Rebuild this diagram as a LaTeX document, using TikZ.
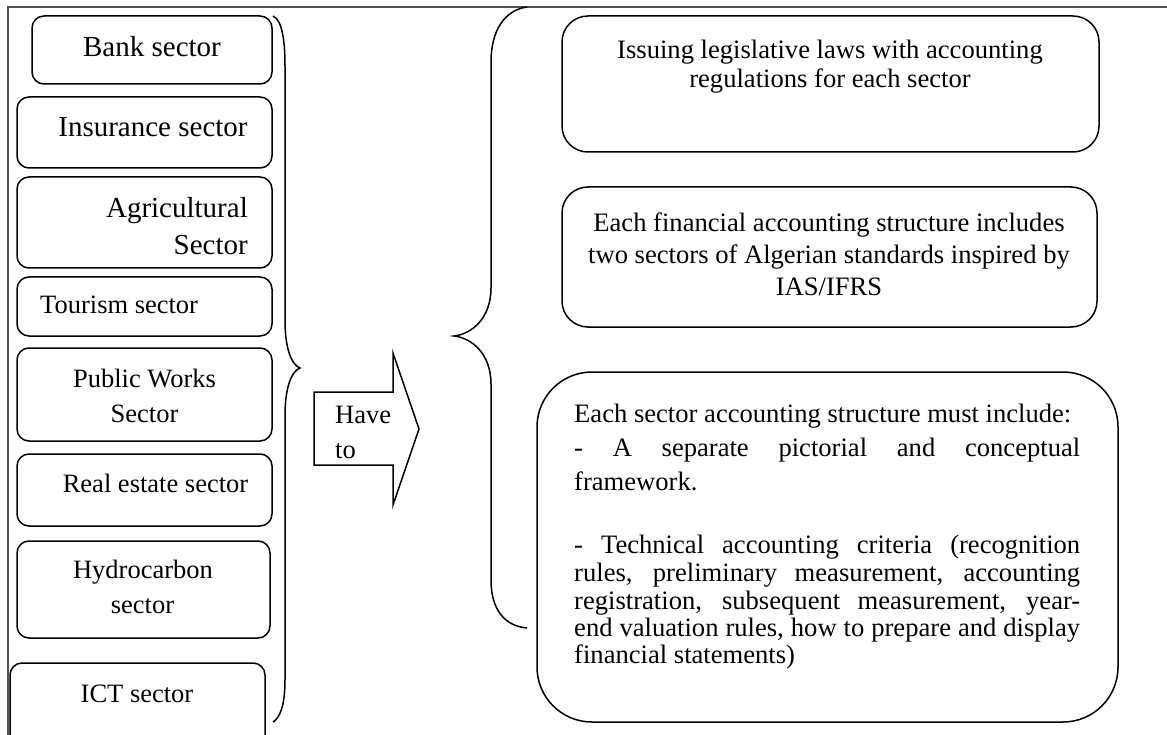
\documentclass[tikz,border=0pt]{standalone}
\usepackage{fontspec}
\setmainfont{Liberation Serif}
\definecolor{framegray}{HTML}{505050}
\tikzset{
  frameline/.style={draw=framegray, line width=2pt},
  sbox/.style={draw, line width=1.5pt, rounded corners=12pt, inner sep=0pt, outer sep=0pt},
  rbox/.style={draw, line width=1.5pt, rounded corners=26pt, inner sep=0pt, outer sep=0pt},
  bbox/.style={draw, line width=1.5pt, rounded corners=55pt, inner sep=0pt, outer sep=0pt},
  brace/.style={draw, line width=1.5pt},
  bigt/.style={inner sep=0pt, font=\fontsize{29}{34}\selectfont},
  midt/.style={inner sep=0pt, font=\fontsize{26.5}{31}\selectfont},
  rtxt/.style={inner sep=0pt, anchor=base, font=\fontsize{26.6}{31}\selectfont},
  jline/.style={inner sep=0pt, anchor=base west, font=\fontsize{26.6}{31}\selectfont},
}
\newcommand{\jst}[1]{\makebox[506pt][s]{#1}}
\begin{document}
\begin{tikzpicture}[x=1pt,y=-1pt]
\clip (0,0) rectangle (1167,735);
\fill[white] (0,0) rectangle (1167,735);
% frame
\draw[frameline] (8,740) -- (8,7) -- (1170,7);
% left boxes
\node[sbox, minimum width=240pt, minimum height=68pt] (bank) at (152,50) {};
\node[sbox, minimum width=255pt, minimum height=71pt] (ins) at (144.5,132.5) {};
\node[sbox, minimum width=255pt, minimum height=91pt] (agri) at (144.5,222.5) {};
\node[sbox, minimum width=255pt, minimum height=59pt] (tour) at (144.5,306.5) {};
\node[sbox, minimum width=255pt, minimum height=93pt] (pub) at (144.5,394.5) {};
\node[sbox, minimum width=255pt, minimum height=72pt] (real) at (144.5,490) {};
\node[sbox, minimum width=253pt, minimum height=97pt] (hydro) at (143.5,589.5) {};
\node[sbox, minimum width=255pt, minimum height=97pt] (ict) at (137.5,711.5) {};
% left texts
\node[bigt, anchor=base] (tbank) at (152,57) {Bank sector};
\node[bigt, anchor=base] (tins) at (153,137) {Insurance sector};
\node[bigt, anchor=base east] (tagri1) at (248,218) {Agricultural};
\node[bigt, anchor=base east] (tagri2) at (248,255) {Sector};
\node[midt, anchor=base west] (ttour) at (40,313) {Tourism sector};
\node[midt, anchor=base] (tpub1) at (144.5,387) {Public Works};
\node[midt, anchor=base] (tpub2) at (144.5,422) {Sector};
\node[midt, anchor=base] (treal) at (155.5,492) {Real estate sector};
\node[midt, anchor=base] (thyd1) at (143,578) {Hydrocarbon};
\node[midt, anchor=base] (thyd2) at (142.5,613) {sector};
\node[midt, anchor=base] (tict) at (137,702) {ICT sector};
% left brace
\draw[brace] (273,16) .. controls (282,20) and (285,40) .. (285,66) -- (285,320)
  .. controls (285,350) and (292,365) .. (300,368)
  .. controls (292,371) and (285,386) .. (285,416) -- (285,680)
  .. controls (285,705) and (280,718) .. (273,722);
% arrow
\draw[line width=1.5pt, line join=miter] (314,392) -- (393,392) -- (393,353) -- (419,429) -- (393,505) -- (393,465) -- (314,465) -- cycle;
\node[midt, anchor=base west] (have) at (335,423) {Have};
\node[midt, anchor=base west] (to) at (335,458) {to};
% right brace
\draw[brace] (527,7) .. controls (505,10) and (491,30) .. (491,62) -- (491,288)
  .. controls (491,318) and (472,334) .. (454,336)
  .. controls (472,338) and (491,354) .. (491,384) -- (491,580)
  .. controls (491,610) and (505,626) .. (527,628);
% right boxes
\node[rbox, minimum width=537pt, minimum height=136pt] (b1) at (830.5,84) {};
\node[rbox, minimum width=535pt, minimum height=140pt] (b2) at (829.5,257) {};
\node[bbox, minimum width=581pt, minimum height=350pt] (b3) at (827.5,547) {};
% box1 text
\node[rtxt] (t11) at (830,59) {Issuing legislative laws with accounting};
\node[rtxt] (t12) at (830,88) {regulations for each sector};
% box2 text
\node[rtxt] (t21) at (829,232) {Each financial accounting structure includes};
\node[rtxt] (t22) at (829,264) {two sectors of Algerian standards inspired by};
\node[rtxt] (t23) at (829,296) {IAS/IFRS};
% box3 text
\node[jline] (t31) at (574,422) {Each sector accounting structure must include:};
\node[jline] (t32) at (574,456) {\jst{- A separate pictorial and conceptual}};
\node[jline] (t33) at (574,490) {framework.};
\node[jline] (t34) at (574,553) {\jst{- Technical accounting criteria (recognition}};
\node[jline] (t35) at (574,581) {\jst{rules, preliminary measurement, accounting}};
\node[jline] (t36) at (574,609) {\jst{registration, subsequent measurement, year-}};
\node[jline] (t37) at (574,636) {\jst{end valuation rules, how to prepare and display}};
\node[jline] (t38) at (574,663) {financial statements)};
\end{tikzpicture}
\end{document}
